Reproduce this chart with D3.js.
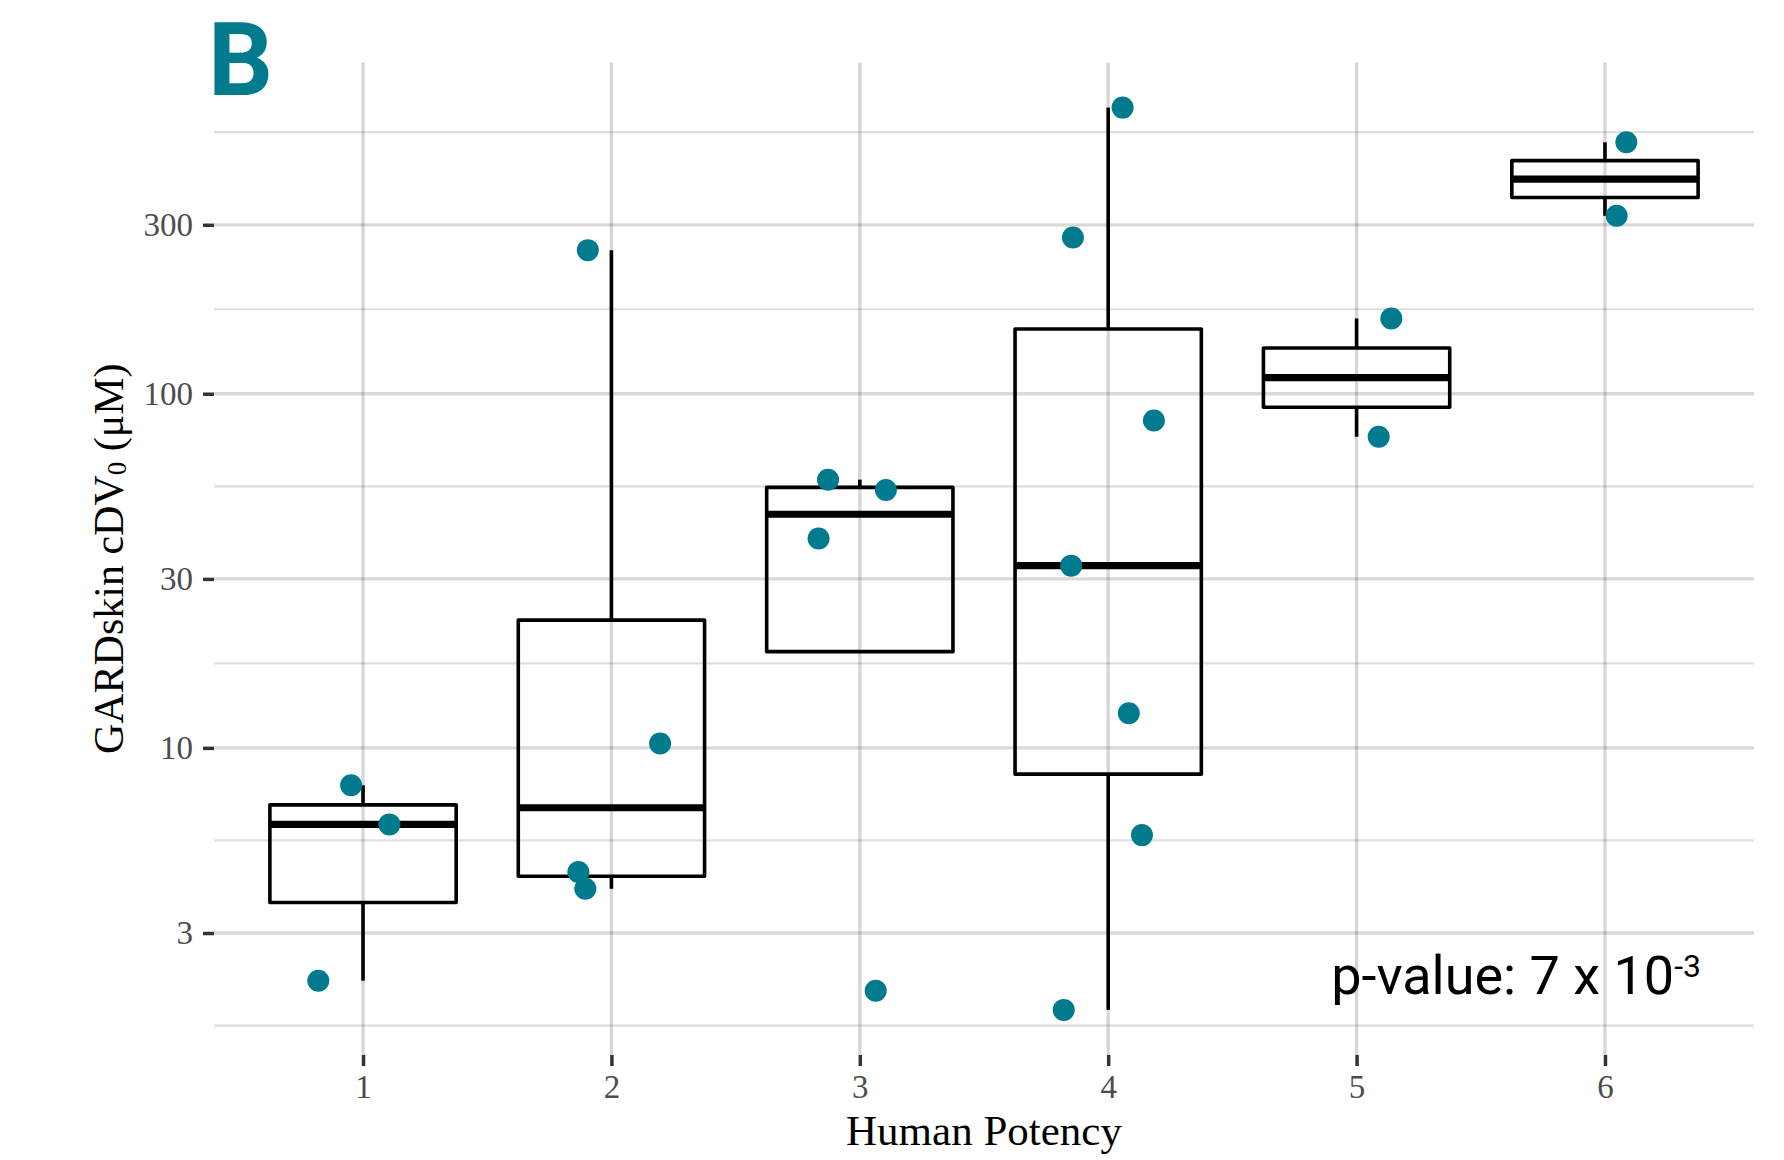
<!DOCTYPE html>
<html>
<head>
<meta charset="utf-8">
<script src="https://cdn.jsdelivr.net/npm/d3@7"></script>
<style>
  html, body { margin: 0; padding: 0; background: #ffffff; }
  svg { display: block; }
</style>
</head>
<body>
<script>
// ---------------- data ----------------
const categories = [1, 2, 3, 4, 5, 6];
const potency = [1, 1, 1, 2, 2, 2, 2, 3, 3, 3, 3, 4, 4, 4, 4, 4, 4, 4, 5, 5, 6, 6];
const cdv0 = [7.84, 6.08, 2.20,
              254.4, 10.29, 4.46, 4.00,
              57.2, 53.5, 39.0, 2.06,
              642.7, 276.3, 84.0, 32.7, 12.53, 5.67, 1.82,
              163.2, 75.6,
              513, 318];
const jitter = [-0.048, 0.106, -0.18,
                -0.095, 0.196, -0.133, -0.105,
                -0.128, 0.105, -0.166, 0.064,
                0.058, -0.142, 0.184, -0.149, 0.083, 0.136, -0.179,
                0.14, 0.089,
                0.086, 0.047];
const yTicks = [3, 10, 30, 100, 300];
const xTickLabels = ["1", "2", "3", "4", "5", "6"];
const panelLabel = "B";
const xTitle = "Human Potency";
const pValueText = "p-value: 7 x 10";
const pValueExp = "-3";

// ---------------- layout ----------------
const W = 1784, H = 1160;
const P = { left: 214, right: 1754, top: 62.5, bottom: 1055 };
const teal = "#007b8d";

const svg = d3.select("body").append("svg").attr("width", W).attr("height", H);

// scales
const logs = cdv0.map(v => Math.log10(v));
const lo = d3.min(logs), hi = d3.max(logs), ex = (hi - lo) * 0.05;
const y = d3.scaleLog().domain([Math.pow(10, lo - ex), Math.pow(10, hi + ex)]).range([P.bottom, P.top]);
const x = d3.scaleLinear().domain([0.4, 6.6]).range([P.left, P.right]);

// minor breaks (ggplot style: midpoints in log space, extended one step)
const tl = yTicks.map(v => Math.log10(v));
const bd = tl[1] - tl[0];
const ext = [tl[0] - bd, ...tl, tl[tl.length - 1] + bd];
const minor = [];
for (let i = 0; i < ext.length - 1; i++) minor.push(Math.pow(10, (ext[i] + ext[i + 1]) / 2));
const dom = y.domain();
const minorIn = minor.filter(v => v >= dom[0] && v <= dom[1]);

const grid = svg.append("g");
grid.selectAll("line.minor").data(minorIn).join("line")
  .attr("x1", P.left).attr("x2", P.right)
  .attr("y1", d => y(d)).attr("y2", d => y(d))
  .attr("stroke", "rgba(0,0,0,0.13)").attr("stroke-width", 2.2);
grid.selectAll("line.major").data(yTicks).join("line")
  .attr("x1", P.left).attr("x2", P.right)
  .attr("y1", d => y(d)).attr("y2", d => y(d))
  .attr("stroke", "rgba(0,0,0,0.15)").attr("stroke-width", 3.3);
grid.selectAll("line.vx").data(categories).join("line")
  .attr("x1", d => x(d)).attr("x2", d => x(d))
  .attr("y1", P.top).attr("y2", P.bottom)
  .attr("stroke", "rgba(0,0,0,0.16)").attr("stroke-width", 3.3);

// ---------------- boxplots (stats in log space) ----------------
const stats = categories.map(c => {
  const vals = logs.filter((v, i) => potency[i] === c).sort(d3.ascending);
  const q1 = d3.quantile(vals, 0.25), med = d3.quantile(vals, 0.5), q3 = d3.quantile(vals, 0.75);
  const iqr = q3 - q1;
  const inside = vals.filter(v => v >= q1 - 1.5 * iqr && v <= q3 + 1.5 * iqr);
  return { c, q1, med, q3, lo: d3.min(inside), hi: d3.max(inside) };
});
const p10 = v => Math.pow(10, v);
const bx = svg.append("g");
const half = 0.375;
const lw = 3.6;
stats.forEach(s => {
  const g = bx.append("g");
  if (s.hi > s.q3) {
    g.append("line").attr("x1", x(s.c)).attr("x2", x(s.c))
      .attr("y1", y(p10(s.q3))).attr("y2", y(p10(s.hi)))
      .attr("stroke", "#000").attr("stroke-width", lw);
  }
  if (s.lo < s.q1) {
    g.append("line").attr("x1", x(s.c)).attr("x2", x(s.c))
      .attr("y1", y(p10(s.q1))).attr("y2", y(p10(s.lo)))
      .attr("stroke", "#000").attr("stroke-width", lw);
  }
  g.append("rect")
    .attr("x", x(s.c - half)).attr("width", x(s.c + half) - x(s.c - half))
    .attr("y", y(p10(s.q3))).attr("height", y(p10(s.q1)) - y(p10(s.q3)))
    .attr("fill", "none").attr("stroke", "#000").attr("stroke-width", lw)
    .attr("stroke-linejoin", "round");
  g.append("line").attr("x1", x(s.c - half)).attr("x2", x(s.c + half))
    .attr("y1", y(p10(s.med))).attr("y2", y(p10(s.med)))
    .attr("stroke", "#000").attr("stroke-width", 7.2);
});

// ---------------- points ----------------
svg.append("g").selectAll("circle").data(cdv0).join("circle")
  .attr("cx", (d, i) => x(potency[i] + jitter[i]))
  .attr("cy", d => y(d))
  .attr("r", 11)
  .attr("fill", teal);

// ---------------- axes ----------------
const yAxis = d3.axisLeft(y).tickValues(yTicks).tickFormat(d3.format("d")).tickSize(11).tickPadding(10);
const gy = svg.append("g").attr("transform", `translate(${P.left},0)`).call(yAxis);
const xAxis = d3.axisBottom(x).tickValues(categories).tickFormat((d, i) => xTickLabels[i]).tickSize(11).tickPadding(9);
const gx = svg.append("g").attr("transform", `translate(0,${P.bottom})`).call(xAxis);
[gx, gy].forEach(g => {
  g.select(".domain").remove();
  g.selectAll(".tick line").attr("stroke", "#333333").attr("stroke-width", 3.5);
  g.selectAll(".tick text").attr("fill", "#4d4d4d")
    .style("font-family", "'Liberation Serif', 'Times New Roman', serif").style("font-size", "33px");
});

// titles
svg.append("text")
  .attr("x", (P.left + P.right) / 2).attr("y", 1145)
  .attr("text-anchor", "middle")
  .style("font-family", "'Liberation Serif', 'Times New Roman', serif").style("font-size", "43px")
  .attr("fill", "#000").text(xTitle);

const yt = svg.append("text")
  .attr("transform", `translate(123,${(P.top + P.bottom) / 2}) rotate(-90)`)
  .attr("text-anchor", "middle")
  .style("font-family", "'Liberation Serif', 'Times New Roman', serif").style("font-size", "42px")
  .attr("fill", "#000");
yt.append("tspan").text("GARDskin cDV");
yt.append("tspan").attr("font-size", "27px").attr("dy", 3).text("0");
yt.append("tspan").attr("dy", -3).text(" (\u03bcM)");

// panel label
svg.append("text")
  .attr("x", 208).attr("y", 95)
  .style("font-family", "Roboto, 'Open Sans', sans-serif").style("font-size", "102px").style("font-weight", 700)
  .attr("fill", teal).text(panelLabel);

// p-value annotation
const pv = svg.append("text")
  .attr("x", 1701).attr("y", 994)
  .attr("text-anchor", "end")
  .style("font-family", "Roboto, 'DejaVu Sans', sans-serif").style("font-size", "54px")
  .attr("fill", "#000");
pv.append("tspan").text(pValueText);
pv.append("tspan").attr("font-size", "32px").attr("dy", -17).text(pValueExp);
</script>
</body>
</html>
